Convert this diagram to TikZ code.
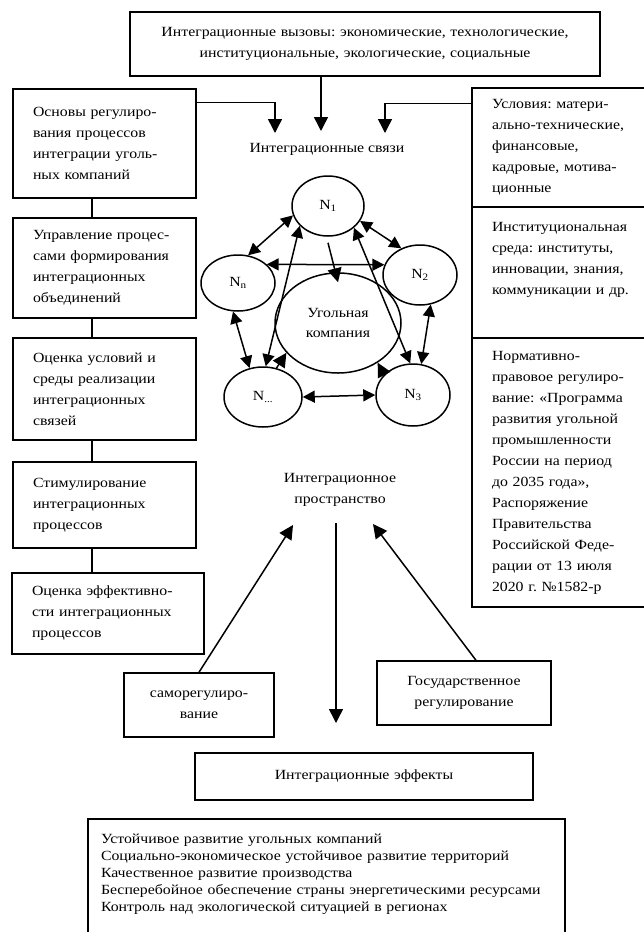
\documentclass[tikz,border=0pt]{standalone}
\usepackage{fontspec}
\setmainfont[FakeStretch=1.13]{Liberation Serif}
\frenchspacing
\usetikzlibrary{arrows.meta,shapes.geometric}

\begin{document}
\begin{tikzpicture}[x=1pt,y=-1pt,line width=1.5pt,
    txt/.style={font=\fontsize{14}{21}\selectfont},
    tip/.style={-{Triangle[length=14pt,width=14pt]}},
    tips/.style={{Triangle[length=12pt,width=12pt]}-{Triangle[length=12pt,width=12pt]}}]

  \useasboundingbox (0,0) rectangle (643,932);

  % boxes
  \begin{scope}[every node/.style={draw, txt, rectangle, inner xsep=20pt, inner ysep=0pt, align=left}]
    \node[text width=430pt, inner xsep=20pt, align=center, minimum height=64pt] (chal) at (365,44)
      {Интеграционные вызовы: экономические, технологические,\\институциональные, экологические, социальные};

    \node[text width=143pt, minimum height=109pt] (b1) at (104.5,143.5)
      {Основы регулиро-\\вания процессов\\интеграции уголь-\\ных компаний};
    \node[text width=143pt, minimum height=100pt] (b2) at (104.5,268)
      {Управление процес-\\сами формирования\\интеграционных\\объединений};
    \node[text width=143pt, minimum height=102pt] (b3) at (104.5,389)
      {Оценка условий и\\среды реализации\\интеграционных\\связей};
    \node[text width=143pt, minimum height=86pt] (b4) at (104.5,505)
      {Стимулирование\\интеграционных\\процессов};
    \node[text width=152pt, minimum height=81pt] (b5) at (108,613.5)
      {Оценка эффективно-\\сти интеграционных\\процессов};

    \node[text width=140pt, minimum height=119pt] (r1) at (562,147.5)
      {Условия: матери-\\ально-технические,\\финансовые,\\кадровые, мотива-\\ционные};
    \node[text width=140pt, minimum height=131pt] (r2) at (562,272.5)
      {Институциональная\\среда: институты,\\инновации, знания,\\коммуникации и др.\\\strut};
    \node[text width=140pt, minimum height=269pt] (r3) at (562,472.5)
      {Нормативно-\\правовое регулиро-\\вание: «Программа\\развития угольной\\промышленности\\России на период\\до 2035 года»,\\Распоряжение\\Правительства\\Российской Феде-\\рации от 13 июля\\2020 г. №1582-р};

    \node[text width=140pt, inner xsep=5pt, align=center, minimum height=64pt] (self) at (199,705)
      {саморегулиро-\\вание};
    \node[text width=164pt, inner xsep=5pt, align=center, minimum height=64pt] (state) at (464,693)
      {Государственное\\регулирование};
    \node[text width=328pt, inner xsep=5pt, align=center, minimum height=47pt] (eff) at (364,776.5)
      {Интеграционные эффекты};
    \node[text width=451pt, inner xsep=13pt, anchor=north, text height=25pt, text depth=97pt,
          font=\fontsize{14}{17}\selectfont] (res) at (326.5,818)
      {Устойчивое развитие угольных компаний\\
       Социально-экономическое устойчивое развитие территорий\\
       Качественное развитие производства\\
       Бесперебойное обеспечение страны энергетическими ресурсами\\
       Контроль над экологической ситуацией в регионах};
  \end{scope}

  % labels
  \node[txt] (links) at (327,149) {Интеграционные связи};
  \node[txt, align=center] (space) at (340,490) {Интеграционное\\пространство};

  % network
  \begin{scope}[every node/.style={ellipse, draw, txt, inner sep=0pt}]
    \node[minimum width=72pt, minimum height=60pt] (n1) at (328,206) {N\textsubscript{1}};
    \node[minimum width=74pt, minimum height=60pt] (n2) at (420,275) {N\textsubscript{2}};
    \node[minimum width=74pt, minimum height=62pt] (n3) at (413,395) {N\textsubscript{3}};
    \node[minimum width=74pt, minimum height=56pt] (nn) at (238,283) {N\textsubscript{n}};
    \node[minimum width=78pt, minimum height=60pt] (nd) at (263,397) {N\textsubscript{...}};
    \node[minimum width=126pt, minimum height=100pt, align=center,
          font=\fontsize{14}{20}\selectfont] (coal) at (338,323) {Угольная\\компания};
  \end{scope}

  \begin{scope}[every edge/.style={draw, tips}]
    \path (n1.195) edge (nn.70);
    \path (n1.-25) edge (n2.125);
    \path (nn.33)  edge (n2.164);
    \path (n1.215) edge (nd.85);
    \path (n1.-40) edge (n3.95);
    \path (n2.-70) edge (n3.75);
    \path (nn.-100) edge (nd.115);
    \path (nd.east) edge (n3.west);
    \path ([yshift=-6pt]n1.south) edge[tip] ([yshift=-10pt]coal.north);
    \path (nd.65)  edge[tip] (coal.210);
    \path (n3.145) edge[tip] (coal.-45);
  \end{scope}

  % inflows
  \coordinate (inC) at (321,131);
  \coordinate (inL) at (275,133);
  \coordinate (inR) at (385,133);
  \draw[tip] (chal.south -| inC) -- (inC);
  \draw[tip] ([yshift=-14pt]b1.north east) -| (inL);
  \draw[tip] ([yshift=-16pt]r1.north west) -| (inR);

  % left column
  \coordinate (spine) at (92,0);
  \foreach \a/\b in {b1/b2,b2/b3,b3/b4,b4/b5}
    \draw (\a.south -| spine) -- (\b.north -| spine);

  % regulation
  \coordinate (tipL) at (293,525);
  \coordinate (tipR) at (373,524);
  \coordinate (outT) at (336,523);
  \coordinate (outB) at (336,723);
  \draw[tip] (self.north) -- (tipL);
  \draw[tip] ([xshift=12pt]state.north) -- (tipR);
  \draw[tip] (outT) -- (outB);

\end{tikzpicture}
\end{document}
